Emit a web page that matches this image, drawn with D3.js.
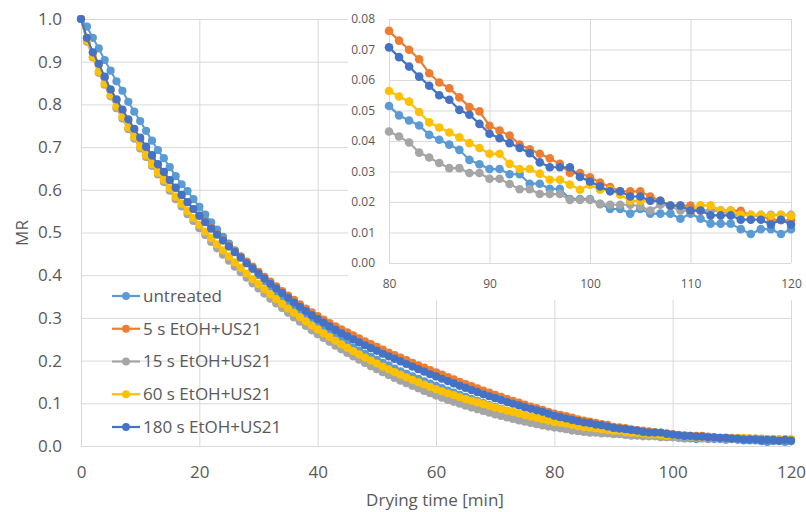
<!DOCTYPE html>
<html>
<head>
<meta charset="utf-8">
<script src="https://cdn.jsdelivr.net/npm/d3@7/dist/d3.min.js"></script>
<style>
  html, body { margin: 0; padding: 0; background: #fff; }
  svg { display: block; font-family: "Open Sans", sans-serif; }
</style>
</head>
<body>
<svg id="chart" width="806" height="512"></svg>
<script>
// Drying time in minutes (one reading per minute)
const minutes = d3.range(0, 121);

// Moisture ratio (MR) per pretreatment
const untreated = [
  1.000, 0.982, 0.956, 0.931, 0.904, 0.879, 0.854, 0.832, 0.806, 0.783, 0.761,
  0.738, 0.715, 0.693, 0.674, 0.653, 0.632, 0.613, 0.597, 0.578, 0.560,
  0.542, 0.524, 0.507, 0.490, 0.474, 0.458, 0.443, 0.428, 0.414, 0.400,
  0.386, 0.373, 0.360, 0.348, 0.336, 0.324, 0.313, 0.302, 0.292, 0.282,
  0.273, 0.264, 0.2555, 0.247, 0.239, 0.231, 0.2235, 0.216, 0.209, 0.202,
  0.195, 0.188, 0.1815, 0.175, 0.169, 0.163, 0.157, 0.1515, 0.146, 0.141,
  0.1355, 0.130, 0.125, 0.120, 0.115, 0.110, 0.105, 0.1005, 0.096, 0.0915,
  0.087, 0.0825, 0.0785, 0.0745, 0.0705, 0.0665, 0.063, 0.0585, 0.055, 0.0515,
  0.0484, 0.0467, 0.0451, 0.0420, 0.0404, 0.0388, 0.0371, 0.0338, 0.0324, 0.0308,
  0.0308, 0.0291, 0.0291, 0.0260, 0.0260, 0.0243, 0.0243, 0.0210, 0.0210, 0.0210,
  0.0194, 0.0177, 0.0177, 0.0162, 0.0177, 0.0162, 0.0162, 0.0162, 0.0145, 0.0162,
  0.0145, 0.0129, 0.0129, 0.0129, 0.0111, 0.0095, 0.0111, 0.0111, 0.0095, 0.0111
];
const etoh5s = [
  1.000, 0.955, 0.921, 0.893, 0.863, 0.833, 0.809, 0.785, 0.762, 0.740, 0.719,
  0.698, 0.678, 0.658, 0.640, 0.622, 0.604, 0.587, 0.571, 0.555, 0.540,
  0.525, 0.511, 0.497, 0.483, 0.470, 0.457, 0.444, 0.432, 0.420, 0.408,
  0.396, 0.385, 0.374, 0.363, 0.352, 0.342, 0.332, 0.322, 0.313, 0.304,
  0.296, 0.288, 0.2805, 0.273, 0.266, 0.259, 0.252, 0.245, 0.2385, 0.232,
  0.2255, 0.219, 0.213, 0.207, 0.201, 0.195, 0.189, 0.1835, 0.178, 0.1725,
  0.167, 0.1615, 0.156, 0.1505, 0.145, 0.140, 0.135, 0.130, 0.125, 0.120,
  0.115, 0.1105, 0.106, 0.1015, 0.097, 0.0925, 0.0885, 0.0845, 0.080, 0.0761,
  0.0729, 0.0699, 0.0668, 0.0622, 0.0592, 0.0573, 0.0543, 0.0511, 0.0497, 0.0450,
  0.0434, 0.0418, 0.0388, 0.0373, 0.0358, 0.0343, 0.0325, 0.0295, 0.0295, 0.0281,
  0.0264, 0.0249, 0.0235, 0.0235, 0.0235, 0.0218, 0.0204, 0.0188, 0.0188, 0.0188,
  0.0172, 0.0172, 0.0172, 0.0172, 0.0171, 0.0155, 0.0155, 0.0142, 0.0140, 0.0140
];
const etoh15s = [
  1.000, 0.947, 0.910, 0.874, 0.846, 0.819, 0.791, 0.767, 0.742, 0.720, 0.697,
  0.677, 0.656, 0.636, 0.618, 0.598, 0.578, 0.561, 0.543, 0.527, 0.510,
  0.494, 0.478, 0.463, 0.448, 0.434, 0.420, 0.407, 0.394, 0.381, 0.369,
  0.357, 0.345, 0.334, 0.323, 0.312, 0.301, 0.291, 0.281, 0.271, 0.262,
  0.253, 0.244, 0.235, 0.2265, 0.218, 0.210, 0.202, 0.1945, 0.187, 0.180,
  0.173, 0.166, 0.1595, 0.153, 0.147, 0.141, 0.135, 0.129, 0.1235, 0.118,
  0.113, 0.108, 0.1035, 0.099, 0.0945, 0.090, 0.086, 0.082, 0.078, 0.074,
  0.0705, 0.067, 0.0635, 0.060, 0.057, 0.054, 0.051, 0.048, 0.0455, 0.0431,
  0.0415, 0.0395, 0.0362, 0.0346, 0.0328, 0.0311, 0.0311, 0.0295, 0.0295, 0.0276,
  0.0276, 0.0259, 0.0242, 0.0242, 0.0226, 0.0226, 0.0226, 0.0207, 0.0207, 0.0207,
  0.0193, 0.0191, 0.0191, 0.0191, 0.0186, 0.0172, 0.0191, 0.0186, 0.0172, 0.0172,
  0.0172, 0.0172, 0.0172, 0.0158, 0.0158, 0.0158, 0.0158, 0.0158, 0.0158, 0.0158
];
const etoh60s = [
  1.000, 0.949, 0.912, 0.877, 0.849, 0.822, 0.795, 0.771, 0.746, 0.724, 0.701,
  0.681, 0.660, 0.640, 0.623, 0.603, 0.584, 0.567, 0.550, 0.534, 0.518,
  0.502, 0.487, 0.472, 0.458, 0.444, 0.430, 0.417, 0.404, 0.391, 0.379,
  0.367, 0.355, 0.344, 0.333, 0.322, 0.312, 0.302, 0.292, 0.282, 0.273,
  0.264, 0.255, 0.2465, 0.238, 0.230, 0.222, 0.2145, 0.207, 0.200, 0.193,
  0.186, 0.1795, 0.173, 0.167, 0.161, 0.155, 0.1495, 0.144, 0.1385, 0.133,
  0.128, 0.1235, 0.119, 0.1145, 0.110, 0.106, 0.102, 0.098, 0.094, 0.090,
  0.0865, 0.083, 0.0795, 0.076, 0.0725, 0.069, 0.066, 0.0628, 0.0596, 0.0564,
  0.0546, 0.0529, 0.0495, 0.0461, 0.0444, 0.0428, 0.0412, 0.0393, 0.0377, 0.0358,
  0.0358, 0.0325, 0.0308, 0.0308, 0.0293, 0.0273, 0.0273, 0.0257, 0.0240, 0.0257,
  0.0240, 0.0240, 0.0224, 0.0204, 0.0204, 0.0204, 0.0204, 0.0188, 0.0188, 0.0172,
  0.0189, 0.0189, 0.0172, 0.0172, 0.0158, 0.0158, 0.0158, 0.0155, 0.0158, 0.0155
];
const etoh180s = [
  1.000, 0.956, 0.922, 0.895, 0.865, 0.835, 0.812, 0.788, 0.765, 0.743, 0.722,
  0.701, 0.681, 0.660, 0.642, 0.623, 0.605, 0.588, 0.571, 0.555, 0.539,
  0.524, 0.509, 0.495, 0.481, 0.467, 0.454, 0.441, 0.428, 0.416, 0.404,
  0.392, 0.380, 0.369, 0.358, 0.347, 0.336, 0.326, 0.316, 0.306, 0.297,
  0.289, 0.280, 0.272, 0.264, 0.257, 0.250, 0.243, 0.236, 0.229, 0.223,
  0.216, 0.210, 0.204, 0.198, 0.192, 0.186, 0.180, 0.174, 0.168, 0.163,
  0.1575, 0.152, 0.1465, 0.141, 0.136, 0.131, 0.126, 0.121, 0.1165, 0.112,
  0.1075, 0.103, 0.099, 0.095, 0.091, 0.087, 0.0835, 0.080, 0.0755, 0.0707,
  0.0675, 0.0644, 0.0611, 0.0581, 0.0550, 0.0535, 0.0502, 0.0486, 0.0456, 0.0424,
  0.0409, 0.0393, 0.0377, 0.0360, 0.0330, 0.0314, 0.0314, 0.0314, 0.0282, 0.0267,
  0.0251, 0.0235, 0.0235, 0.0218, 0.0218, 0.0204, 0.0204, 0.0188, 0.0188, 0.0172,
  0.0172, 0.0156, 0.0156, 0.0156, 0.0142, 0.0142, 0.0142, 0.0126, 0.0142, 0.0126
];

const seriesNames = ["untreated", "5 s EtOH+US21", "15 s EtOH+US21", "60 s EtOH+US21", "180 s EtOH+US21"];
const seriesValues = [untreated, etoh5s, etoh15s, etoh60s, etoh180s];
const seriesColors = ["#5B9BD5", "#ED7D31", "#A5A5A5", "#FFC000", "#4472C4"];

const mainXTicks = [0, 20, 40, 60, 80, 100, 120];
const mainYTicks = [0, 0.1, 0.2, 0.3, 0.4, 0.5, 0.6, 0.7, 0.8, 0.9, 1.0];
const insetXTicks = [80, 90, 100, 110, 120];
const insetYTicks = [0, 0.01, 0.02, 0.03, 0.04, 0.05, 0.06, 0.07, 0.08];

const series = seriesNames.map((name, i) => ({
  name,
  color: seriesColors[i],
  points: minutes.map((t, j) => ({ t, v: seriesValues[i][j] }))
}));

const svg = d3.select("#chart");
const textColor = "#595959";
const gridColor = "#d9d9d9";

// ---------- main chart ----------
const x = d3.scaleLinear().domain([0, 120]).range([81, 791]);
const y = d3.scaleLinear().domain([0, 1]).range([446, 19]);

function styleGrid(g) {
  g.select(".domain").remove();
  g.selectAll(".tick line").attr("stroke", gridColor).attr("stroke-width", 1);
}

svg.append("g")
  .attr("transform", `translate(${x(0)},0)`)
  .call(d3.axisLeft(y).tickValues(mainYTicks).tickSize(-(x(120) - x(0))).tickFormat(""))
  .call(styleGrid);

svg.append("g")
  .attr("transform", `translate(0,${y(0)})`)
  .call(d3.axisBottom(x).tickValues(mainXTicks).tickSize(-(y(0) - y(1))).tickFormat(""))
  .call(styleGrid);

const yAxis = svg.append("g")
  .attr("transform", `translate(${x(0)},0)`)
  .call(d3.axisLeft(y).tickValues(mainYTicks).tickSize(0).tickPadding(19).tickFormat(d3.format(".1f")));
yAxis.select(".domain").remove();
yAxis.selectAll("text").attr("fill", textColor).style("font-size", "17px").style("font-family", "Open Sans");

const xAxis = svg.append("g")
  .attr("transform", `translate(0,${y(0)})`)
  .call(d3.axisBottom(x).tickValues(mainXTicks).tickSize(0).tickPadding(20).tickFormat(d3.format("d")));
xAxis.select(".domain").remove();
xAxis.selectAll("text").attr("fill", textColor).style("font-size", "17px").style("font-family", "Open Sans");

svg.append("text")
  .attr("x", 435).attr("y", 506)
  .attr("text-anchor", "middle")
  .attr("fill", textColor)
  .style("font-size", "17px")
  .text("Drying time [min]");

svg.append("text")
  .attr("transform", "translate(28,233) rotate(-90)")
  .attr("text-anchor", "middle")
  .attr("fill", textColor)
  .style("font-size", "17px")
  .text("MR");

const mainLine = d3.line().x(d => x(d.t)).y(d => y(d.v));
const mainG = svg.append("g");
series.forEach(s => {
  const g = mainG.append("g");
  g.append("path")
    .attr("d", mainLine(s.points))
    .attr("fill", "none")
    .attr("stroke", s.color)
    .attr("stroke-width", 2);
  g.selectAll("circle")
    .data(s.points)
    .join("circle")
    .attr("cx", d => x(d.t))
    .attr("cy", d => y(d.v))
    .attr("r", 4.1)
    .attr("fill", s.color);
});

// ---------- legend ----------
const legendY = d3.scaleLinear().domain([0, 4]).range([296, 427]);
const legend = svg.append("g");
series.forEach((s, i) => {
  const ly = legendY(i);
  legend.append("line")
    .attr("x1", 112).attr("x2", 140).attr("y1", ly).attr("y2", ly)
    .attr("stroke", s.color).attr("stroke-width", 2.2);
  legend.append("circle")
    .attr("cx", 126).attr("cy", ly).attr("r", 3.9).attr("fill", s.color);
  legend.append("text")
    .attr("x", 143).attr("y", ly).attr("dy", "0.35em")
    .attr("fill", textColor)
    .style("font-size", "17px")
    .text(s.name);
});

// ---------- inset: last 40 minutes ----------
svg.append("rect")
  .attr("x", 348).attr("y", 0).attr("width", 458).attr("height", 300)
  .attr("fill", "#fff");

const xi = d3.scaleLinear().domain([80, 120]).range([389, 791]);
const yi = d3.scaleLinear().domain([0, 0.08]).range([263, 19]);

svg.append("g")
  .attr("transform", `translate(${xi(80)},0)`)
  .call(d3.axisLeft(yi).tickValues(insetYTicks).tickSize(-(xi(120) - xi(80))).tickFormat(""))
  .call(styleGrid);
svg.append("g")
  .attr("transform", `translate(0,${yi(0)})`)
  .call(d3.axisBottom(xi).tickValues(insetXTicks).tickSize(-(yi(0) - yi(0.08))).tickFormat(""))
  .call(styleGrid);

const yiAxis = svg.append("g")
  .attr("transform", `translate(${xi(80)},0)`)
  .call(d3.axisLeft(yi).tickValues(insetYTicks).tickSize(0).tickPadding(14).tickFormat(d3.format(".2f")));
yiAxis.select(".domain").remove();
yiAxis.selectAll("text").attr("fill", textColor).style("font-size", "12px").style("font-family", "Open Sans");

const xiAxis = svg.append("g")
  .attr("transform", `translate(0,${yi(0)})`)
  .call(d3.axisBottom(xi).tickValues(insetXTicks).tickSize(0).tickPadding(16).tickFormat(d3.format("d")));
xiAxis.select(".domain").remove();
xiAxis.selectAll("text").attr("fill", textColor).style("font-size", "12px").style("font-family", "Open Sans");

const insetLine = d3.line().x(d => xi(d.t)).y(d => yi(d.v));
const insetG = svg.append("g");
series.forEach(s => {
  const pts = s.points.filter(d => d.t >= 80);
  const g = insetG.append("g");
  g.append("path")
    .attr("d", insetLine(pts))
    .attr("fill", "none")
    .attr("stroke", s.color)
    .attr("stroke-width", 2.2);
  g.selectAll("circle")
    .data(pts)
    .join("circle")
    .attr("cx", d => xi(d.t))
    .attr("cy", d => yi(d.v))
    .attr("r", 4.3)
    .attr("fill", s.color);
});
</script>
</body>
</html>
